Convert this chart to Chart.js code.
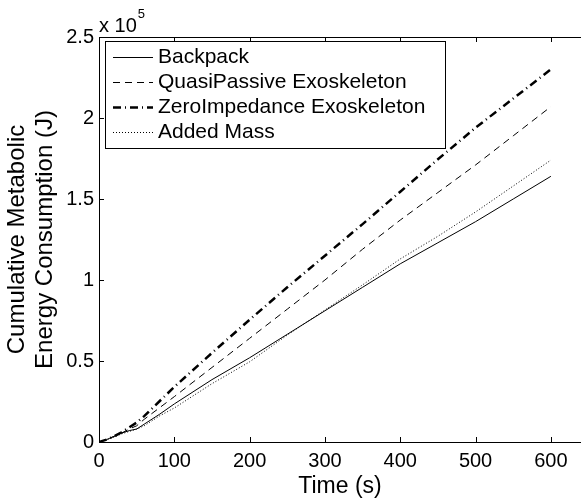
<!DOCTYPE html>
<html>
<head>
<meta charset="utf-8">
<script src="https://cdn.jsdelivr.net/npm/chart.js@4/dist/chart.umd.min.js"></script>
<style>
  html, body { margin: 0; padding: 0; background: #fff; overflow: hidden; }
  canvas { display: block; }
</style>
</head>
<body>
<canvas id="energyChart" width="581" height="503"></canvas>
<script>
// time (s) and cumulative energy in units of 10^5 J
const timeS = [0, 10, 20, 30, 40, 50, 60, 80, 100, 150, 200, 250, 300, 350, 400, 450, 500, 550, 600];
const backpack = [0, 0.015, 0.035, 0.055, 0.07, 0.08, 0.11, 0.17, 0.235, 0.385, 0.52, 0.665, 0.81, 0.955, 1.10, 1.23, 1.36, 1.50, 1.64];
const quasiPassive = [0, 0.015, 0.035, 0.055, 0.08, 0.10, 0.14, 0.21, 0.28, 0.46, 0.64, 0.82, 1.0, 1.19, 1.37, 1.54, 1.71, 1.89, 2.07];
const zeroImpedance = [0, 0.015, 0.035, 0.06, 0.09, 0.12, 0.16, 0.25, 0.34, 0.55, 0.755, 0.955, 1.15, 1.345, 1.545, 1.745, 1.94, 2.12, 2.30];
const addedMass = [0, 0.012, 0.03, 0.05, 0.065, 0.08, 0.10, 0.16, 0.21, 0.36, 0.495, 0.66, 0.815, 0.97, 1.13, 1.27, 1.42, 1.58, 1.74];

const seriesLabels = ["Backpack", "QuasiPassive Exoskeleton", "ZeroImpedance Exoskeleton", "Added Mass"];
const yTicks = [0, 0.5, 1, 1.5, 2, 2.5];
const xTicks = [0, 100, 200, 300, 400, 500, 600];

const FONT = '"Liberation Sans", Arial, Helvetica, sans-serif';

function toPoints(vals) {
	return vals.map((v, i) => ({ x: timeS[i], y: v }));
}

//box, inward ticks, legend and the x 10^5 note, MATLAB style
const matlabFrame = {
	id: 'matlabFrame',
	afterDatasetsDraw(chart) {
		const { ctx, chartArea: a, scales } = chart;
		ctx.save();
		ctx.strokeStyle = '#000';
		ctx.lineWidth = 1;
		ctx.setLineDash([]);
		ctx.strokeRect(a.left + 0.5, a.top + 0.5, a.right - a.left, a.bottom - a.top);

		ctx.beginPath();
		for (const t of xTicks) {
			let px = Math.round(scales.x.getPixelForValue(t)) + 0.5;
			ctx.moveTo(px, a.bottom); ctx.lineTo(px, a.bottom - 5);
			ctx.moveTo(px, a.top); ctx.lineTo(px, a.top + 5);
		}
		for (const t of yTicks) {
			let py = Math.round(scales.y.getPixelForValue(t)) + 0.5;
			ctx.moveTo(a.left, py); ctx.lineTo(a.left + 5, py);
		}
		ctx.stroke();
		ctx.restore();
	},
	afterDraw(chart) {
		const { ctx, chartArea: a } = chart;
		ctx.save();

		// multiplier above the y axis
		ctx.fillStyle = '#000';
		ctx.textBaseline = 'alphabetic';
		ctx.textAlign = 'left';
		ctx.font = '20px ' + FONT;
		ctx.fillText('x 10', a.left, 31.5);
		let w = ctx.measureText('x 10').width;
		ctx.font = '13px ' + FONT;
		ctx.fillText('5', a.left + w + 1, 18);

		// legend box
		let bx = 105.5, by = 41.5, bw = 340, bh = 107;
		ctx.fillStyle = '#fff';
		ctx.fillRect(bx, by, bw, bh);
		ctx.strokeStyle = '#000';
		ctx.lineWidth = 1;
		ctx.strokeRect(bx, by, bw, bh);

		chart.data.datasets.forEach((ds, i) => {
			let yy = 57.5 + i * 25;
			ctx.beginPath();
			ctx.lineWidth = ds.borderWidth;
			ctx.setLineDash(ds.borderDash || []);
			ctx.moveTo(113, yy);
			ctx.lineTo(153, yy);
			ctx.stroke();
			ctx.setLineDash([]);
			ctx.fillStyle = '#000';
			ctx.font = '21px ' + FONT;
			ctx.textBaseline = 'middle';
			ctx.fillText(ds.label, 158, yy);
		});
		ctx.restore();
	}
};

new Chart(document.getElementById('energyChart').getContext('2d'), {
	type: 'line',
	data: {
		datasets: [
			{ label: seriesLabels[0], data: toPoints(backpack), borderColor: '#000', borderWidth: 1, borderDash: [] },
			{ label: seriesLabels[1], data: toPoints(quasiPassive), borderColor: '#000', borderWidth: 1, borderDash: [7, 5] },
			{ label: seriesLabels[2], data: toPoints(zeroImpedance), borderColor: '#000', borderWidth: 2.5, borderDash: [8, 4, 1, 4] },
			{ label: seriesLabels[3], data: toPoints(addedMass), borderColor: '#000', borderWidth: 1, borderDash: [1, 2] }
		]
	},
	options: {
		responsive: false,
		animation: false,
		devicePixelRatio: 1,
		elements: { point: { radius: 0 }, line: { tension: 0, fill: false } },
		layout: { padding: { top: 37, left: 0, right: 0, bottom: 0 } },
		plugins: { legend: { display: false }, tooltip: { enabled: false } },
		scales: {
			x: {
				type: 'linear',
				min: 0, max: 640,
				afterFit(scale) { scale.height = 61; },
				grid: { display: false, drawTicks: false },
				border: { display: false },
				ticks: {
					stepSize: 100, includeBounds: false, padding: 7,
					color: '#000', font: { family: FONT, size: 20 },
					maxRotation: 0
				},
				title: {
					display: true, text: 'Time (s)', color: '#000',
					font: { family: FONT, size: 23, lineHeight: 1.2 },
					padding: { top: 0, bottom: 3 }
				}
			},
			y: {
				min: 0, max: 2.5,
				afterFit(scale) { scale.width = 99; },
				grid: { display: false, drawTicks: false },
				border: { display: false },
				ticks: {
					stepSize: 0.5, padding: 5,
					color: '#000', font: { family: FONT, size: 20 },
					callback: (v) => String(v)
				},
				title: {
					display: true,
					text: ['Cumulative Metabolic', 'Energy Consumption (J)'],
					color: '#000',
					font: { family: FONT, size: 24, lineHeight: 1.19 },
					padding: { top: 3, bottom: 0 }
				}
			}
		}
	},
	plugins: [matlabFrame]
});
</script>
</body>
</html>
